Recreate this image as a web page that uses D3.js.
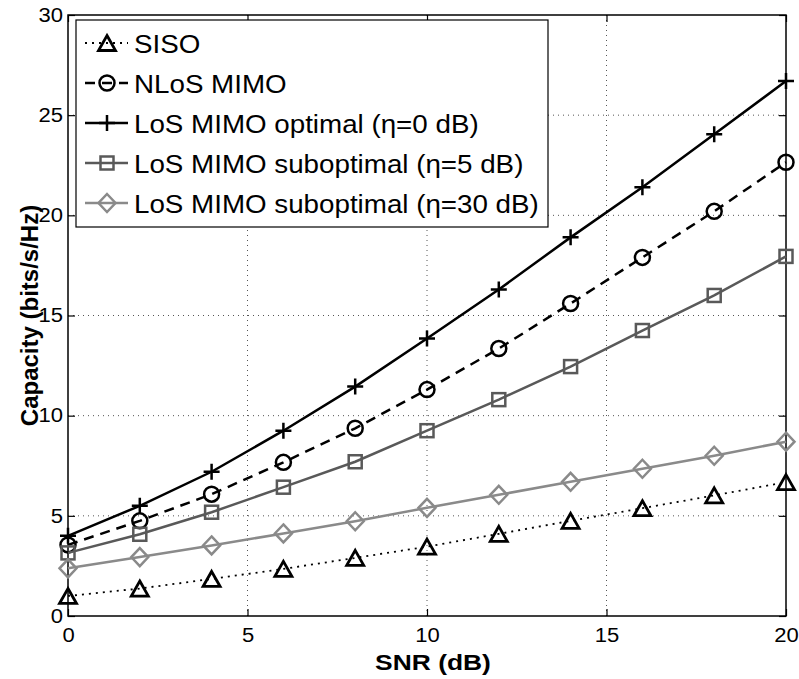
<!DOCTYPE html>
<html>
<head>
<meta charset="utf-8">
<script src="https://cdn.jsdelivr.net/npm/d3@7"></script>
<style>
  body { margin: 0; background: #fff; }
  text { font-family: "Liberation Sans", Arial, sans-serif; }
</style>
</head>
<body>
<div class="chart-wrapper"></div>
<script>
// SNR points (dB)
const snr = [0, 2, 4, 6, 8, 10, 12, 14, 16, 18, 20]

// capacity values (bits/s/Hz)
const siso = [1.0, 1.37, 1.85, 2.35, 2.9, 3.46, 4.1, 4.75, 5.38, 6.02, 6.68]
const nlosMimo = [3.55, 4.75, 6.08, 7.67, 9.37, 11.3, 13.35, 15.6, 17.9, 20.2, 22.65]
const losOptimal = [4.0, 5.5, 7.2, 9.25, 11.45, 13.85, 16.3, 18.9, 21.4, 24.05, 26.7]
const losSub5 = [3.15, 4.08, 5.18, 6.43, 7.7, 9.25, 10.8, 12.45, 14.25, 16.0, 17.95]
const losSub30 = [2.38, 2.94, 3.52, 4.12, 4.73, 5.4, 6.05, 6.7, 7.35, 8.0, 8.7]

const names = ['SISO', 'NLoS MIMO', 'LoS MIMO optimal (η=0 dB)', 'LoS MIMO suboptimal (η=5 dB)', 'LoS MIMO suboptimal (η=30 dB)']
const xTicks = [0, 5, 10, 15, 20]
const yTicks = [0, 5, 10, 15, 20, 25, 30]

const series = [
    {name: names[0], values: siso, color: '#000', dash: '2,5', width: 1.8, marker: 'triangle'},
    {name: names[1], values: nlosMimo, color: '#000', dash: '10,7', width: 2.5, marker: 'circle'},
    {name: names[2], values: losOptimal, color: '#000', dash: null, width: 2.5, marker: 'plus'},
    {name: names[3], values: losSub5, color: '#595959', dash: null, width: 2.5, marker: 'square'},
    {name: names[4], values: losSub30, color: '#8a8a8a', dash: null, width: 2.5, marker: 'diamond'}
]

const width = 799
const height = 679
const margin = {left: 68, right: 13, top: 15, bottom: 63}
// the source figure's text is a bit wider than it is tall
const stretch = 'scale(1.13,1)'

const svg = d3.select('.chart-wrapper').append('svg')
    .attr('width', width)
    .attr('height', height)

const x = d3.scaleLinear().domain([0, 20]).range([margin.left, width - margin.right])
const y = d3.scaleLinear().domain([0, 30]).range([height - margin.bottom, margin.top])

// grid
svg.append('g').selectAll('line').data(xTicks.slice(1, -1)).enter().append('line')
    .attr('x1', d => x(d)).attr('x2', d => x(d))
    .attr('y1', y(0)).attr('y2', y(30))
    .attr('stroke', '#555').attr('stroke-width', 1).attr('stroke-dasharray', '1,4')
svg.append('g').selectAll('line').data(yTicks.slice(1, -1)).enter().append('line')
    .attr('y1', d => y(d)).attr('y2', d => y(d))
    .attr('x1', x(0)).attr('x2', x(20))
    .attr('stroke', '#555').attr('stroke-width', 1).attr('stroke-dasharray', '1,4')

// axes with inward ticks on all four sides
const tickLen = 7
const axisBottom = d3.axisBottom(x).tickValues(xTicks).tickSize(-tickLen).tickPadding(12)
const axisTop = d3.axisTop(x).tickValues(xTicks).tickSize(-tickLen).tickFormat('')
const axisLeft = d3.axisLeft(y).tickValues(yTicks).tickSize(-tickLen).tickPadding(4.5)
const axisRight = d3.axisRight(y).tickValues(yTicks).tickSize(-tickLen).tickFormat('')

const styleAxis = g => {
    g.select('.domain').remove()
    g.selectAll('line').attr('stroke', '#000').attr('stroke-width', 1.2)
    g.selectAll('text').attr('fill', '#000').style('font-size', '19.5px')
        .style('font-family', '"Liberation Sans", Arial, sans-serif')
        .attr('transform', stretch)
}
svg.append('g').attr('transform', `translate(0,${y(0)})`).call(axisBottom).call(styleAxis)
svg.append('g').attr('transform', `translate(0,${y(30)})`).call(axisTop).call(styleAxis)
svg.append('g').attr('transform', `translate(${x(0)},0)`).call(axisLeft).call(styleAxis)
svg.append('g').attr('transform', `translate(${x(20)},0)`).call(axisRight).call(styleAxis)

svg.append('rect')
    .attr('x', x(0)).attr('y', y(30))
    .attr('width', x(20) - x(0)).attr('height', y(0) - y(30))
    .attr('fill', 'none').attr('stroke', '#000').attr('stroke-width', 1.5)

// axis titles
svg.append('text')
    .attr('transform', `translate(${(x(0) + x(20)) / 2 + 6},670) scale(1.2,1)`)
    .attr('text-anchor', 'middle')
    .style('font-size', '22px').style('font-weight', 'bold')
    .text('SNR (dB)')
svg.append('text')
    .attr('transform', `translate(38,${(y(0) + y(30)) / 2}) rotate(-90)`)
    .attr('text-anchor', 'middle')
    .style('font-size', '24px').style('font-weight', 'bold')
    .text('Capacity (bits/s/Hz)')

// markers
const drawMarker = (g, type, cx, cy, color) => {
    const sw = 2.5
    if (type === 'triangle') {
        const h = 15, w = 17
        g.append('path')
            .attr('d', `M${cx},${cy - h / 2}L${cx + w / 2},${cy + h / 2}L${cx - w / 2},${cy + h / 2}Z`)
            .attr('fill', 'none').attr('stroke', color).attr('stroke-width', 2.8)
    } else if (type === 'circle') {
        g.append('circle').attr('cx', cx).attr('cy', cy).attr('r', 7.5)
            .attr('fill', 'none').attr('stroke', color).attr('stroke-width', sw)
    } else if (type === 'plus') {
        g.append('path')
            .attr('d', `M${cx - 8},${cy}H${cx + 8}M${cx},${cy - 8}V${cy + 8}`)
            .attr('fill', 'none').attr('stroke', color).attr('stroke-width', sw)
    } else if (type === 'square') {
        g.append('rect').attr('x', cx - 6.5).attr('y', cy - 6.5).attr('width', 13).attr('height', 13)
            .attr('fill', 'none').attr('stroke', color).attr('stroke-width', sw)
    } else if (type === 'diamond') {
        g.append('path')
            .attr('d', `M${cx},${cy - 9}L${cx + 8.5},${cy}L${cx},${cy + 9}L${cx - 8.5},${cy}Z`)
            .attr('fill', 'none').attr('stroke', color).attr('stroke-width', sw)
    }
}

const line = d3.line().x((d, i) => x(snr[i])).y(d => y(d))

const plot = svg.append('g')
series.forEach(s => {
    plot.append('path')
        .datum(s.values)
        .attr('d', line)
        .attr('fill', 'none')
        .attr('stroke', s.color)
        .attr('stroke-width', s.width)
        .attr('stroke-dasharray', s.dash)
    const mg = plot.append('g')
    s.values.forEach((v, i) => drawMarker(mg, s.marker, x(snr[i]), y(v), s.color))
})

// legend
const legend = svg.append('g')
legend.append('rect')
    .attr('x', 76).attr('y', 20).attr('width', 472).attr('height', 207)
    .attr('fill', '#fff').attr('stroke', '#000').attr('stroke-width', 1.2)

series.forEach((s, i) => {
    const ly = 43 + i * 40
    legend.append('line')
        .attr('x1', 85).attr('x2', 128).attr('y1', ly).attr('y2', ly)
        .attr('stroke', s.color).attr('stroke-width', s.width)
        .attr('stroke-dasharray', s.dash)
    drawMarker(legend, s.marker, 107, ly, s.color)
    legend.append('text')
        .attr('transform', `translate(134,${ly + 10}) scale(1.11,1)`)
        .style('font-size', '25px')
        .text(s.name)
})
</script>
</body>
</html>
